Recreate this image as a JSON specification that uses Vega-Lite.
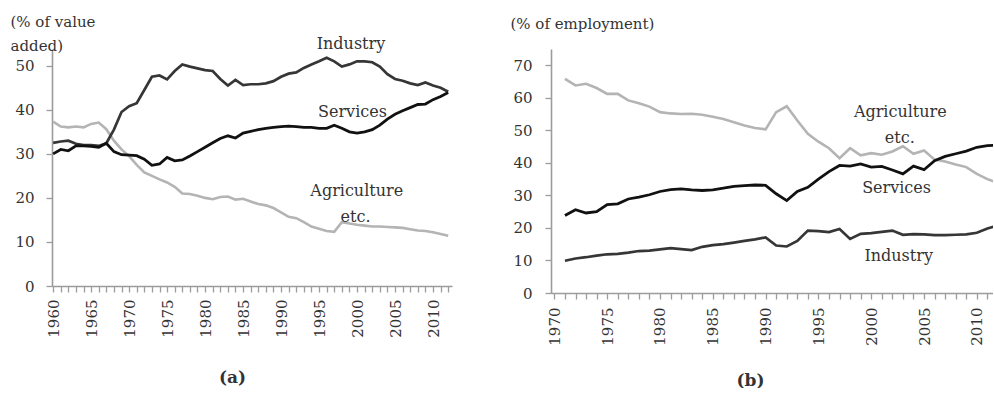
{
  "$schema": "https://vega.github.io/schema/vega-lite/v6.json",
  "background": "white",
  "padding": {"left": 10, "top": 14, "right": 0, "bottom": 0},
  "spacing": 58,
  "datasets": {
    "value_added": [
      {"year": 1960, "Industry": 32.5, "Services": 30.0, "Agriculture": 37.3},
      {"year": 1961, "Industry": 32.8, "Services": 31.0, "Agriculture": 36.2},
      {"year": 1962, "Industry": 33.0, "Services": 30.7, "Agriculture": 36.0},
      {"year": 1963, "Industry": 32.3, "Services": 31.8, "Agriculture": 36.2},
      {"year": 1964, "Industry": 32.0, "Services": 31.8, "Agriculture": 36.0},
      {"year": 1965, "Industry": 32.0, "Services": 31.7, "Agriculture": 36.8},
      {"year": 1966, "Industry": 31.8, "Services": 31.5, "Agriculture": 37.1},
      {"year": 1967, "Industry": 32.4, "Services": 32.4, "Agriculture": 35.6},
      {"year": 1968, "Industry": 35.5, "Services": 30.5, "Agriculture": 33.0},
      {"year": 1969, "Industry": 39.5, "Services": 29.8, "Agriculture": 31.0},
      {"year": 1970, "Industry": 40.8, "Services": 29.7, "Agriculture": 29.5},
      {"year": 1971, "Industry": 41.5, "Services": 29.6, "Agriculture": 27.5},
      {"year": 1972, "Industry": 44.5, "Services": 28.8, "Agriculture": 25.8},
      {"year": 1973, "Industry": 47.5, "Services": 27.4, "Agriculture": 25.0},
      {"year": 1974, "Industry": 47.8, "Services": 27.7, "Agriculture": 24.2},
      {"year": 1975, "Industry": 46.9, "Services": 29.2, "Agriculture": 23.5},
      {"year": 1976, "Industry": 48.8, "Services": 28.4, "Agriculture": 22.5},
      {"year": 1977, "Industry": 50.3, "Services": 28.6, "Agriculture": 21.0},
      {"year": 1978, "Industry": 49.8, "Services": 29.5, "Agriculture": 20.9},
      {"year": 1979, "Industry": 49.4, "Services": 30.5, "Agriculture": 20.5},
      {"year": 1980, "Industry": 49.0, "Services": 31.5, "Agriculture": 20.0},
      {"year": 1981, "Industry": 48.8, "Services": 32.5, "Agriculture": 19.7},
      {"year": 1982, "Industry": 47.0, "Services": 33.5, "Agriculture": 20.2},
      {"year": 1983, "Industry": 45.5, "Services": 34.1, "Agriculture": 20.3},
      {"year": 1984, "Industry": 46.8, "Services": 33.6, "Agriculture": 19.6},
      {"year": 1985, "Industry": 45.6, "Services": 34.7, "Agriculture": 19.8},
      {"year": 1986, "Industry": 45.8, "Services": 35.1, "Agriculture": 19.2},
      {"year": 1987, "Industry": 45.8, "Services": 35.5, "Agriculture": 18.6},
      {"year": 1988, "Industry": 46.0, "Services": 35.8, "Agriculture": 18.3},
      {"year": 1989, "Industry": 46.5, "Services": 36.0, "Agriculture": 17.7},
      {"year": 1990, "Industry": 47.5, "Services": 36.2, "Agriculture": 16.7},
      {"year": 1991, "Industry": 48.2, "Services": 36.3, "Agriculture": 15.7},
      {"year": 1992, "Industry": 48.5, "Services": 36.2, "Agriculture": 15.4},
      {"year": 1993, "Industry": 49.5, "Services": 36.0, "Agriculture": 14.5},
      {"year": 1994, "Industry": 50.3, "Services": 36.0, "Agriculture": 13.5},
      {"year": 1995, "Industry": 51.0, "Services": 35.8, "Agriculture": 13.0},
      {"year": 1996, "Industry": 51.8, "Services": 35.8, "Agriculture": 12.5},
      {"year": 1997, "Industry": 51.0, "Services": 36.5, "Agriculture": 12.3},
      {"year": 1998, "Industry": 49.8, "Services": 35.8, "Agriculture": 14.5},
      {"year": 1999, "Industry": 50.3, "Services": 35.0, "Agriculture": 14.2},
      {"year": 2000, "Industry": 51.0, "Services": 34.7, "Agriculture": 13.9},
      {"year": 2001, "Industry": 51.0, "Services": 35.0, "Agriculture": 13.7},
      {"year": 2002, "Industry": 50.8, "Services": 35.5, "Agriculture": 13.5},
      {"year": 2003, "Industry": 49.8, "Services": 36.5, "Agriculture": 13.5},
      {"year": 2004, "Industry": 48.1, "Services": 37.9, "Agriculture": 13.4},
      {"year": 2005, "Industry": 47.0, "Services": 39.0, "Agriculture": 13.3},
      {"year": 2006, "Industry": 46.6, "Services": 39.8, "Agriculture": 13.2},
      {"year": 2007, "Industry": 46.0, "Services": 40.5, "Agriculture": 12.9},
      {"year": 2008, "Industry": 45.6, "Services": 41.2, "Agriculture": 12.6},
      {"year": 2009, "Industry": 46.2, "Services": 41.3, "Agriculture": 12.5},
      {"year": 2010, "Industry": 45.5, "Services": 42.3, "Agriculture": 12.2},
      {"year": 2011, "Industry": 45.0, "Services": 43.0, "Agriculture": 11.8},
      {"year": 2012, "Industry": 44.1, "Services": 43.9, "Agriculture": 11.4}
    ],
    "employment": [
      {"year": 1971, "Industry": 9.9, "Services": 23.8, "Agriculture": 65.8},
      {"year": 1972, "Industry": 10.6, "Services": 25.6, "Agriculture": 63.8},
      {"year": 1973, "Industry": 11.0, "Services": 24.6, "Agriculture": 64.3},
      {"year": 1974, "Industry": 11.5, "Services": 25.0, "Agriculture": 63.0},
      {"year": 1975, "Industry": 11.9, "Services": 27.2, "Agriculture": 61.2},
      {"year": 1976, "Industry": 12.0, "Services": 27.4, "Agriculture": 61.2},
      {"year": 1977, "Industry": 12.4, "Services": 28.9, "Agriculture": 59.2},
      {"year": 1978, "Industry": 12.9, "Services": 29.5, "Agriculture": 58.3},
      {"year": 1979, "Industry": 13.0, "Services": 30.2, "Agriculture": 57.3},
      {"year": 1980, "Industry": 13.4, "Services": 31.2, "Agriculture": 55.6},
      {"year": 1981, "Industry": 13.8, "Services": 31.8, "Agriculture": 55.2},
      {"year": 1982, "Industry": 13.5, "Services": 32.0, "Agriculture": 55.0},
      {"year": 1983, "Industry": 13.2, "Services": 31.7, "Agriculture": 55.1},
      {"year": 1984, "Industry": 14.2, "Services": 31.5, "Agriculture": 54.8},
      {"year": 1985, "Industry": 14.7, "Services": 31.7, "Agriculture": 54.2},
      {"year": 1986, "Industry": 15.0, "Services": 32.2, "Agriculture": 53.5},
      {"year": 1987, "Industry": 15.5, "Services": 32.8, "Agriculture": 52.5},
      {"year": 1988, "Industry": 16.0, "Services": 33.0, "Agriculture": 51.5},
      {"year": 1989, "Industry": 16.5, "Services": 33.2, "Agriculture": 50.7},
      {"year": 1990, "Industry": 17.1, "Services": 33.1, "Agriculture": 50.3},
      {"year": 1991, "Industry": 14.6, "Services": 30.5, "Agriculture": 55.6},
      {"year": 1992, "Industry": 14.3, "Services": 28.4, "Agriculture": 57.4},
      {"year": 1993, "Industry": 16.0, "Services": 31.2, "Agriculture": 53.0},
      {"year": 1994, "Industry": 19.2, "Services": 32.5, "Agriculture": 48.9},
      {"year": 1995, "Industry": 19.0, "Services": 35.0, "Agriculture": 46.5},
      {"year": 1996, "Industry": 18.7, "Services": 37.3, "Agriculture": 44.5},
      {"year": 1997, "Industry": 19.7, "Services": 39.2, "Agriculture": 41.4},
      {"year": 1998, "Industry": 16.6, "Services": 39.0, "Agriculture": 44.5},
      {"year": 1999, "Industry": 18.2, "Services": 39.7, "Agriculture": 42.3},
      {"year": 2000, "Industry": 18.4, "Services": 38.7, "Agriculture": 43.0},
      {"year": 2001, "Industry": 18.8, "Services": 38.9, "Agriculture": 42.5},
      {"year": 2002, "Industry": 19.2, "Services": 37.8, "Agriculture": 43.5},
      {"year": 2003, "Industry": 17.9, "Services": 36.6, "Agriculture": 45.1},
      {"year": 2004, "Industry": 18.1, "Services": 39.0, "Agriculture": 42.8},
      {"year": 2005, "Industry": 18.0, "Services": 37.9, "Agriculture": 43.8},
      {"year": 2006, "Industry": 17.8, "Services": 40.7, "Agriculture": 41.0},
      {"year": 2007, "Industry": 17.8, "Services": 42.0, "Agriculture": 40.4},
      {"year": 2008, "Industry": 17.9, "Services": 42.8, "Agriculture": 39.5},
      {"year": 2009, "Industry": 18.0, "Services": 43.6, "Agriculture": 38.7},
      {"year": 2010, "Industry": 18.5, "Services": 44.8, "Agriculture": 36.6},
      {"year": 2011, "Industry": 19.8, "Services": 45.3, "Agriculture": 35.0},
      {"year": 2012, "Industry": 20.8, "Services": 45.5, "Agriculture": 33.8}
    ]
  },
  "hconcat": [
    {
      "width": 400,
      "height": 237,
      "data": {"name": "value_added"},
      "transform": [{"fold": ["Agriculture", "Industry", "Services"], "as": ["sector", "share"]}],
      "encoding": {
        "x": {
          "field": "year", "type": "quantitative",
          "scale": {"domain": [1959.85, 2012.5], "nice": false, "zero": false},
          "axis": {
            "title": "(a)", "titleFontWeight": "bold", "titleFontSize": 17,
            "titleX": 180, "titleY": 91, "titleAlign": "center", "titleBaseline": "middle",
            "values": [1960,1961,1962,1963,1964,1965,1966,1967,1968,1969,1970,1971,1972,1973,1974,1975,1976,1977,1978,1979,1980,1981,1982,1983,1984,1985,1986,1987,1988,1989,1990,1991,1992,1993,1994,1995,1996,1997,1998,1999,2000,2001,2002,2003,2004,2005,2006,2007,2008,2009,2010,2011,2012],
            "labelExpr": "datum.value % 5 === 0 ? '' + datum.value : ''",
            "labelAngle": -90, "labelPadding": 7
          }
        },
        "y": {
          "field": "share", "type": "quantitative",
          "scale": {"domain": [0, 53.8], "nice": false},
          "axis": {
            "title": ["(% of value", "added)"],
            "titleAngle": 0, "titleAlign": "left", "titleBaseline": "top",
            "titleX": -42, "titleY": -35, "titleLineHeight": 24,
            "values": [0, 10, 20, 30, 40, 50], "labelPadding": 12
          }
        }
      },
      "layer": [
        {
          "mark": {"type": "line", "clip": true},
          "encoding": {
            "color": {"field": "sector", "type": "nominal", "legend": null,
              "scale": {"domain": ["Agriculture", "Industry", "Services"], "range": ["#b4b4b4", "#363636", "#111111"]}},
            "strokeWidth": {"field": "sector", "type": "nominal", "legend": null,
              "scale": {"domain": ["Agriculture", "Industry", "Services"], "range": [2.6, 2.8, 3.2]}}
          }
        },
        {"transform": [{"filter": "datum.year === 1999 && datum.sector === 'Industry'"}],
         "mark": {"type": "text", "fontSize": 16, "color": "#333"},
         "encoding": {"x": {"datum": 1999.2}, "y": {"datum": 55.0}, "text": {"field": "sector"}}},
        {"transform": [{"filter": "datum.year === 1999 && datum.sector === 'Services'"}],
         "mark": {"type": "text", "fontSize": 16, "color": "#333"},
         "encoding": {"x": {"datum": 1999.4}, "y": {"datum": 39.6}, "text": {"field": "sector"}}},
        {"transform": [{"filter": "datum.year === 2000 && datum.sector === 'Agriculture'"}],
         "mark": {"type": "text", "fontSize": 16, "color": "#333"},
         "encoding": {"x": {"datum": 1999.96}, "y": {"datum": 21.6}, "text": {"field": "sector"}}},
        {"transform": [{"filter": "datum.year === 2000 && datum.sector === 'Agriculture'"}],
         "mark": {"type": "text", "fontSize": 16, "color": "#333"},
         "encoding": {"x": {"datum": 1999.8}, "y": {"datum": 15.6}, "text": {"value": "etc."}}}
      ]
    },
    {
      "width": 442,
      "height": 244,
      "data": {"name": "employment"},
      "transform": [{"fold": ["Agriculture", "Industry", "Services"], "as": ["sector", "share"]}],
      "encoding": {
        "x": {
          "field": "year", "type": "quantitative",
          "scale": {"domain": [1969.68, 2011.53], "nice": false, "zero": false},
          "axis": {
            "title": "(b)", "titleFontWeight": "bold", "titleFontSize": 17,
            "titleX": 199, "titleY": 87, "titleAlign": "center", "titleBaseline": "middle",
            "values": [1970,1971,1972,1973,1974,1975,1976,1977,1978,1979,1980,1981,1982,1983,1984,1985,1986,1987,1988,1989,1990,1991,1992,1993,1994,1995,1996,1997,1998,1999,2000,2001,2002,2003,2004,2005,2006,2007,2008,2009,2010,2011],
            "labelExpr": "datum.value % 5 === 0 ? '' + datum.value : ''",
            "labelAngle": -90, "labelPadding": 8
          }
        },
        "y": {
          "field": "share", "type": "quantitative",
          "scale": {"domain": [0, 75], "nice": false},
          "axis": {
            "title": "(% of employment)",
            "titleAngle": 0, "titleAlign": "left", "titleBaseline": "top",
            "titleX": -41, "titleY": -33,
            "values": [0, 10, 20, 30, 40, 50, 60, 70], "labelPadding": 13
          }
        }
      },
      "layer": [
        {
          "mark": {"type": "line", "clip": true},
          "encoding": {
            "color": {"field": "sector", "type": "nominal", "legend": null,
              "scale": {"domain": ["Agriculture", "Industry", "Services"], "range": ["#b4b4b4", "#363636", "#111111"]}},
            "strokeWidth": {"field": "sector", "type": "nominal", "legend": null,
              "scale": {"domain": ["Agriculture", "Industry", "Services"], "range": [2.6, 2.8, 3.2]}}
          }
        },
        {"transform": [{"filter": "datum.year === 2003 && datum.sector === 'Agriculture'"}],
         "mark": {"type": "text", "fontSize": 16, "color": "#333"},
         "encoding": {"x": {"datum": 2002.75}, "y": {"datum": 55.6}, "text": {"field": "sector"}}},
        {"transform": [{"filter": "datum.year === 2003 && datum.sector === 'Agriculture'"}],
         "mark": {"type": "text", "fontSize": 16, "color": "#333"},
         "encoding": {"x": {"datum": 2002.7}, "y": {"datum": 47.6}, "text": {"value": "etc."}}},
        {"transform": [{"filter": "datum.year === 2003 && datum.sector === 'Services'"}],
         "mark": {"type": "text", "fontSize": 16, "color": "#333"},
         "encoding": {"x": {"datum": 2002.4}, "y": {"datum": 32.3}, "text": {"field": "sector"}}},
        {"transform": [{"filter": "datum.year === 2003 && datum.sector === 'Industry'"}],
         "mark": {"type": "text", "fontSize": 16, "color": "#333"},
         "encoding": {"x": {"datum": 2002.6}, "y": {"datum": 11.4}, "text": {"field": "sector"}}}
      ]
    }
  ],
  "config": {
    "view": {"stroke": null},
    "font": "DejaVu Serif",
    "axis": {
      "grid": false,
      "domainColor": "#9c9c9c", "domainWidth": 1.6,
      "tickColor": "#9c9c9c", "tickWidth": 1.3, "tickSize": 6,
      "labelFont": "DejaVu Serif", "labelFontSize": 15, "labelColor": "#333",
      "titleFont": "DejaVu Serif", "titleFontSize": 15, "titleColor": "#333", "titleFontWeight": "normal"
    }
  }
}
